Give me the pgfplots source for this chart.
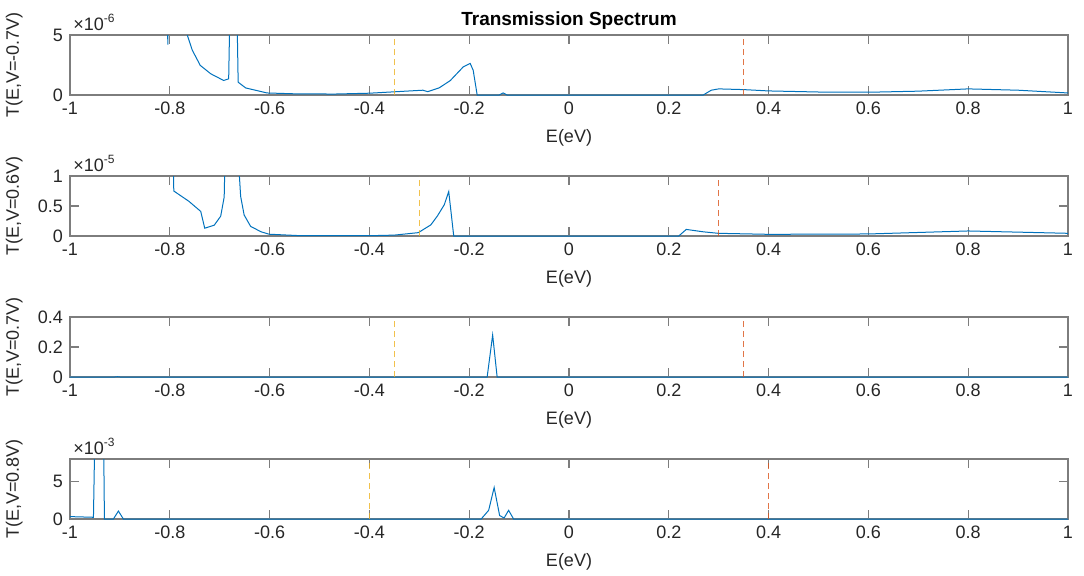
\documentclass[border=0pt]{standalone}
\usepackage{pgfplots}
\pgfplotsset{compat=1.18}
\usepackage{fontspec}
\setmainfont{Liberation Sans}

\definecolor{mblue}{RGB}{0,114,189}
\definecolor{morange}{RGB}{217,83,25}
\definecolor{myellow}{RGB}{237,177,32}
\definecolor{axgray}{RGB}{125,125,125}
\definecolor{txt}{RGB}{38,38,38}

\pgfplotsset{
  panel/.style={
    width=499pt, height=30pt, scale only axis,
    xmin=-1, xmax=1, ymin=0,
    xtick={-1,-0.8,-0.6,-0.4,-0.2,0,0.2,0.4,0.6,0.8,1},
    xticklabels={-1,-0.8,-0.6,-0.4,-0.2,0,0.2,0.4,0.6,0.8,1},
    scaled ticks=false, clip mode=individual,
    tick align=inside, tick pos=both, major tick length=4.5pt,
    axis line style={axgray, line width=0.6pt},
    every tick/.style={axgray, line width=0.6pt},
    tick label style={font=\fontsize{9}{10}\selectfont, text=txt},
    label style={font=\fontsize{9}{10}\selectfont, text=txt},
    xlabel={E(eV)},
    xlabel style={at={(axis description cs:0.5,-0.72)}, anchor=center},
    ylabel style={at={(axis description cs:-0.056,0.5)}, anchor=center},
    /pgf/number format/assume math mode=true,
  },
  tline/.style={mblue, line width=0.5pt},
  yline/.style={myellow, opacity=0.8, line width=0.5pt, dash pattern=on 3pt off 2pt},
  rline/.style={morange, opacity=0.8, line width=0.5pt, dash pattern=on 3pt off 2pt},
}

\newcommand{\expo}[1]{\node[anchor=base west, inner sep=0pt, font=\fontsize{9}{10}\selectfont, text=txt]
  at (rel axis cs:0.003,1) [yshift=2.5pt] {×10\textsuperscript{#1}};}

\begin{document}
\begin{tikzpicture}
\useasboundingbox (-35pt,-240pt) rectangle (507pt,47.5pt);

% V = -0.7 V
\begin{axis}[panel, at={(0pt,0pt)}, anchor=south west,
  ymax=5e-6, ytick={0,5e-6}, yticklabels={0,5},
  ylabel={T(E,V=-0.7V)},
  title={\bfseries Transmission Spectrum},
  every axis title/.style={at={(axis description cs:0.5,1)}, anchor=base, yshift=5pt,
    font=\fontsize{9.5}{11}\selectfont, text=black}]
\addplot[tline] coordinates {
(-1,3e-5) (-0.81,3e-5) (-0.804,4.2e-6) (-0.798,3e-5) (-0.77,1e-5)
(-0.765,5.0e-6) (-0.755,3.74e-6) (-0.739,2.47e-6) (-0.718,1.77e-6) (-0.692,1.21e-6)
(-0.682,1.35e-6) (-0.680,6e-6) (-0.672,5e-5) (-0.665,6e-6) (-0.663,1.07e-6)
(-0.648,0.59e-6) (-0.605,0.17e-6) (-0.55,0.1e-6) (-0.47,0.08e-6) (-0.4,0.15e-6)
(-0.353,0.26e-6) (-0.293,0.4e-6) (-0.283,0.28e-6) (-0.26,0.6e-6) (-0.238,1.2e-6)
(-0.212,2.34e-6) (-0.198,2.63e-6) (-0.192,2.06e-6) (-0.184,0) (-0.14,0)
(-0.132,0.17e-6) (-0.124,0) (0.269,0) (0.285,0.4e-6) (0.30,0.51e-6)
(0.35,0.45e-6) (0.4,0.34e-6) (0.5,0.25e-6) (0.6,0.23e-6) (0.7,0.32e-6)
(0.8,0.51e-6) (0.9,0.4e-6) (1.0,0.17e-6)
};
\addplot[yline] coordinates {(-0.35,0) (-0.35,5e-6)};
\addplot[rline] coordinates {(0.35,0) (0.35,5e-6)};
\expo{-6}
\end{axis}

% V = 0.6 V
\begin{axis}[panel, at={(0pt,-70.5pt)}, anchor=south west,
  ymax=1e-5, ytick={0,0.5e-5,1e-5}, yticklabels={0,0.5,1},
  ylabel={T(E,V=0.6V)}]
\addplot[tline] coordinates {
(-1,5e-5) (-0.80,5e-5) (-0.792,7.5e-6) (-0.762,5.8e-6) (-0.738,4.1e-6)
(-0.730,1.3e-6) (-0.711,1.8e-6) (-0.698,3.3e-6) (-0.691,6.5e-6) (-0.68,5e-5)
(-0.662,1.2e-5) (-0.658,6.6e-6) (-0.651,3.5e-6) (-0.638,1.6e-6) (-0.617,0.7e-6)
(-0.601,0.3e-6) (-0.537,0.05e-6) (-0.4,0.05e-6) (-0.35,0.15e-6) (-0.302,0.56e-6)
(-0.277,1.85e-6) (-0.264,3.3e-6) (-0.250,5.2e-6) (-0.241,7.4e-6) (-0.231,0)
(0.220,0) (0.235,1.1e-6) (0.269,0.7e-6) (0.299,0.45e-6) (0.4,0.28e-6)
(0.6,0.34e-6) (0.8,0.84e-6) (1.0,0.45e-6)
};
\addplot[yline] coordinates {(-0.3,0) (-0.3,1e-5)};
\addplot[rline] coordinates {(0.3,0) (0.3,1e-5)};
\expo{-5}
\end{axis}

% V = 0.7 V
\begin{axis}[panel, at={(0pt,-141pt)}, anchor=south west,
  ymax=0.4, ytick={0,0.2,0.4}, yticklabels={0,0.2,0.4},
  ylabel={T(E,V=0.7V)}]
\addplot[tline] coordinates {
(-1,0) (-0.91,0) (-0.905,0.002) (-0.9,0) (-0.164,0) (-0.153,0.28) (-0.144,0) (1,0)
};
\addplot[yline] coordinates {(-0.35,0) (-0.35,0.4)};
\addplot[rline] coordinates {(0.35,0) (0.35,0.4)};
\end{axis}

% V = 0.8 V
\begin{axis}[panel, at={(0pt,-212pt)}, anchor=south west,
  ymax=8e-3, ytick={0,5e-3}, yticklabels={0,5},
  ylabel={T(E,V=0.8V)}]
\addplot[tline] coordinates {
(-1,0.32e-3) (-0.953,0.23e-3) (-0.948,2e-2) (-0.934,2e-2) (-0.931,0)
(-0.913,0) (-0.903,1.06e-3) (-0.893,0) (-0.176,0) (-0.161,1.16e-3)
(-0.150,4.2e-3) (-0.139,0.46e-3) (-0.130,0.14e-3) (-0.121,1.16e-3) (-0.111,0)
(1,0)
};
\addplot[yline] coordinates {(-0.4,0) (-0.4,8e-3)};
\addplot[rline] coordinates {(0.4,0) (0.4,8e-3)};
\expo{-3}
\end{axis}
\end{tikzpicture}
\end{document}
